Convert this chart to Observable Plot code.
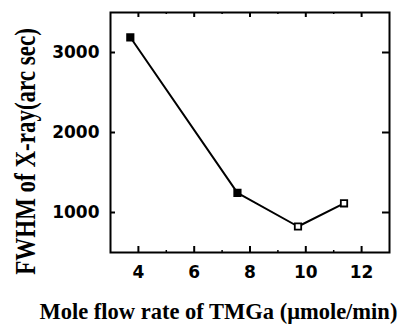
<!DOCTYPE html>
<html><head><meta charset="utf-8">
<script src="https://cdn.jsdelivr.net/npm/d3@7"></script>
<script src="https://cdn.jsdelivr.net/npm/@observablehq/plot@0.6"></script>
<style>body{margin:0;background:#fff}</style>
</head><body><div id="chart"></div>
<script>
const flowRate = [3.71, 7.55, 9.72, 11.37];
const fwhm = [3190, 1245, 825, 1115];
const markerFilled = [true, true, false, false];
const xTicks = [4, 6, 8, 10, 12];
const xMinorTicks = [5, 7, 9, 11];
const yTicks = [1000, 2000, 3000];
const xTitle = "Mole flow rate of TMGa (μmole/min)";
const yTitle = "FWHM of X-ray(arc sec)";

const data = flowRate.map((x, i) => ({x, y: fwhm[i], filled: markerFilled[i]}));
const H = 240;
const plot = Plot.plot({
  width: 407, height: 329,
  marginLeft: 110, marginRight: 18, marginTop: 12, marginBottom: 77,
  x: {domain: [3, 13]},
  y: {domain: [500, 3500]},
  style: {fontFamily: "DejaVu Sans", fontSize: "17px", fontWeight: "bold", color: "black", background: "white"},
  marks: [
    Plot.frame({stroke: "black", strokeWidth: 2}),
    Plot.tickX(xTicks, {x: d => d, insetTop: H - 6, stroke: "black", strokeWidth: 2}),
    Plot.tickX(xTicks, {x: d => d, insetBottom: H - 5, stroke: "black", strokeWidth: 2}),
    Plot.tickX(xMinorTicks, {x: d => d, insetTop: H - 2, stroke: "black", strokeWidth: 1.5}),
    Plot.tickX(xMinorTicks, {x: d => d, insetBottom: H - 2, stroke: "black", strokeWidth: 1.5}),
    Plot.tickY(yTicks, {y: d => d, insetRight: 279 - 5, stroke: "black", strokeWidth: 2}),
    Plot.tickY(yTicks, {y: d => d, insetLeft: 279 - 7, stroke: "black", strokeWidth: 2}),
    Plot.axisX({ticks: xTicks, tickSize: 0, tickPadding: 13, label: null, fontSize: 17, fontWeight: "bold"}),
    Plot.axisY({ticks: yTicks, tickSize: 0, tickPadding: 11, label: null, tickFormat: d => String(d), fontSize: 17, fontWeight: "bold"}),
    Plot.line(data, {x: "x", y: "y", stroke: "black", strokeWidth: 2}),
    Plot.dot(data, {x: "x", y: "y", symbol: "square", r: 3.6, fill: d => d.filled ? "black" : "white", stroke: "black", strokeWidth: 1.8}),
    Plot.text([xTitle], {text: d => d, frameAnchor: "bottom-left", textAnchor: "start", lineAnchor: "middle", dx: -71, dy: 59, fontFamily: "Liberation Serif", fontSize: 22.5, fontWeight: "bold"}),
    Plot.text([yTitle], {text: d => d, frameAnchor: "left", textAnchor: "middle", lineAnchor: "middle", rotate: -90, dx: -85, dy: 19, fontFamily: "Liberation Serif", fontSize: 23, fontWeight: "bold", className: "ytitle"})
  ]
});
plot.querySelectorAll(".ytitle text").forEach(t => {
  const tr = t.getAttribute("transform") || "";
  t.setAttribute("transform", tr + " scale(1,1.3)");
});
document.getElementById("chart").appendChild(plot);
</script>
</body></html>
